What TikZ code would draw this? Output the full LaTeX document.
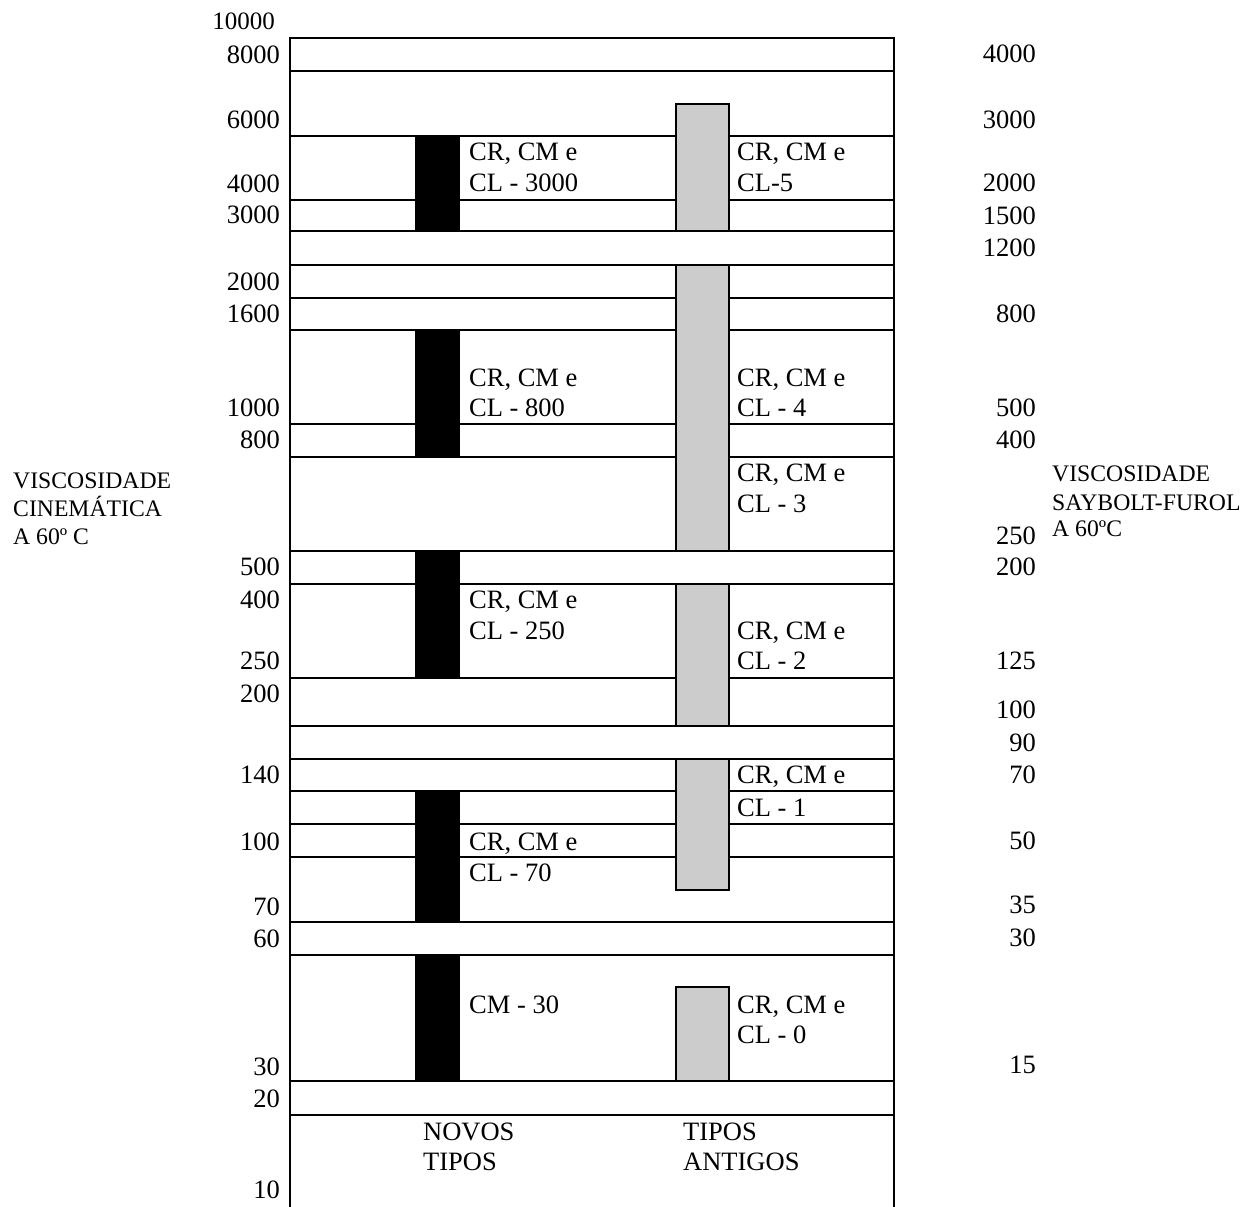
\documentclass[tikz,border=0pt]{standalone}
\usepackage{fontspec}
\setmainfont{Liberation Serif}
\begin{document}
\begin{tikzpicture}[x=1pt,y=-1pt,
  rulel/.style={line width=2.2pt},
  blackbar/.style={fill=black},
  graybar/.style={fill=black!20, draw=black, line width=2pt},
  num/.style={font=\fontsize{26.5}{31}\selectfont, inner sep=0pt, anchor=base east},
  lbl/.style={font=\fontsize{26.5}{31}\selectfont, inner sep=0pt, anchor=base west},
  ttl/.style={font=\fontsize{23.7}{28}\selectfont, inner sep=0pt, anchor=base west}]
\useasboundingbox (0,0) rectangle (1251,1207);
% frame
\draw[rulel] (290,1207) -- (290,38) -- (894,38) -- (894,1207);
\foreach \yy in {70.7,135.7,200,231,265,297.7,329.7,424,456.7,550.7,583.7,677.7,726,759,791,824,857,922,955,1081,1115}
  \draw[rulel] (290,\yy) -- (894,\yy);
% black bars (novos tipos)
\foreach \ya/\yb in {135.7/231,329.7/456.7,550.7/677.7,791/922,955/1081}
  \fill[blackbar] (415,\ya) rectangle (460,\yb);
% gray bars (tipos antigos)
\foreach \ya/\yb in {104/231,265/550.7,583.7/726,759/890,987.3/1081}
  \draw[graybar] (676,\ya) rectangle (729,\yb);
% left scale
\node[num, font=\fontsize{25}{31}\selectfont] (l10000) at (275,29.3) {10000};
\node[num] (l8000) at (280,63.3) {8000};
\node[num] (l6000) at (280,128.3) {6000};
\node[num] (l4000) at (280,192.7) {4000};
\node[num] (l3000) at (280,223) {3000};
\node[num] (l2000) at (280,290) {2000};
\node[num] (l1600) at (280,322.7) {1600};
\node[num] (l1000) at (280,416.7) {1000};
\node[num] (l800) at (280,448) {800};
\node[num] (l500) at (280,575.7) {500};
\node[num] (l400) at (280,608) {400};
\node[num] (l250) at (280,669) {250};
\node[num] (l200) at (280,702.7) {200};
\node[num] (l140) at (280,783) {140};
\node[num] (l100) at (280,850) {100};
\node[num] (l70) at (280,915) {70};
\node[num] (l60) at (280,947) {60};
\node[num] (l30) at (280,1075) {30};
\node[num] (l20) at (280,1107) {20};
\node[num] (l10) at (280,1198) {10};
% right scale
\node[num] (r4000) at (1036,62.7) {4000};
\node[num] (r3000) at (1036,128.3) {3000};
\node[num] (r2000) at (1036,191.7) {2000};
\node[num] (r1500) at (1036,224) {1500};
\node[num] (r1200) at (1036,256.7) {1200};
\node[num] (r800) at (1036,322.7) {800};
\node[num] (r500) at (1036,416.7) {500};
\node[num] (r400) at (1036,448.3) {400};
\node[num] (r250) at (1036,544.3) {250};
\node[num] (r200) at (1036,575.7) {200};
\node[num] (r125) at (1036,669.3) {125};
\node[num] (r100) at (1036,718) {100};
\node[num] (r90) at (1036,751.7) {90};
\node[num] (r70) at (1036,783) {70};
\node[num] (r50) at (1036,849) {50};
\node[num] (r35) at (1036,913) {35};
\node[num] (r30) at (1036,946.7) {30};
\node[num] (r15) at (1036,1073) {15};
% novos tipos labels
\node[lbl] (n1a) at (469,160.7) {CR, CM e};
\node[lbl] (n1b) at (469,191.7) {CL - 3000};
\node[lbl] (n2a) at (469,386) {CR, CM e};
\node[lbl] (n2b) at (469,416.7) {CL - 800};
\node[lbl] (n3a) at (469,608) {CR, CM e};
\node[lbl] (n3b) at (469,639.3) {CL - 250};
\node[lbl] (n4a) at (469,850) {CR, CM e};
\node[lbl] (n4b) at (469,881.7) {CL - 70};
\node[lbl] (n5a) at (469,1013) {CM - 30};
% tipos antigos labels
\node[lbl] (a1a) at (737,160.7) {CR, CM e};
\node[lbl] (a1b) at (737,191.7) {CL-5};
\node[lbl] (a2a) at (737,386) {CR, CM e};
\node[lbl] (a2b) at (737,416.7) {CL - 4};
\node[lbl] (a3a) at (737,481.7) {CR, CM e};
\node[lbl] (a3b) at (737,512.3) {CL - 3};
\node[lbl] (a4a) at (737,639.3) {CR, CM e};
\node[lbl] (a4b) at (737,669.3) {CL - 2};
\node[lbl] (a5a) at (737,783.3) {CR, CM e};
\node[lbl] (a5b) at (737,816) {CL - 1};
\node[lbl] (a6a) at (737,1013) {CR, CM e};
\node[lbl] (a6b) at (737,1043) {CL - 0};
% column titles
\node[lbl] (nova) at (423,1140) {NOVOS};
\node[lbl] (novb) at (423,1170.7) {TIPOS};
\node[lbl] (anta) at (683,1140) {TIPOS};
\node[lbl] (antb) at (683,1170.7) {ANTIGOS};
% axis titles
\node[ttl] (lt1) at (13,488.3) {VISCOSIDADE};
\node[ttl] (lt2) at (13,516.7) {CINEMÁTICA};
\node[ttl] (lt3) at (13,544) {A 60º C};
\node[ttl] (rt1) at (1052,481.7) {VISCOSIDADE};
\node[ttl] (rt2) at (1052,510) {SAYBOLT-FUROL};
\node[ttl] (rt3) at (1052,536) {A 60ºC};
\end{tikzpicture}
\end{document}
